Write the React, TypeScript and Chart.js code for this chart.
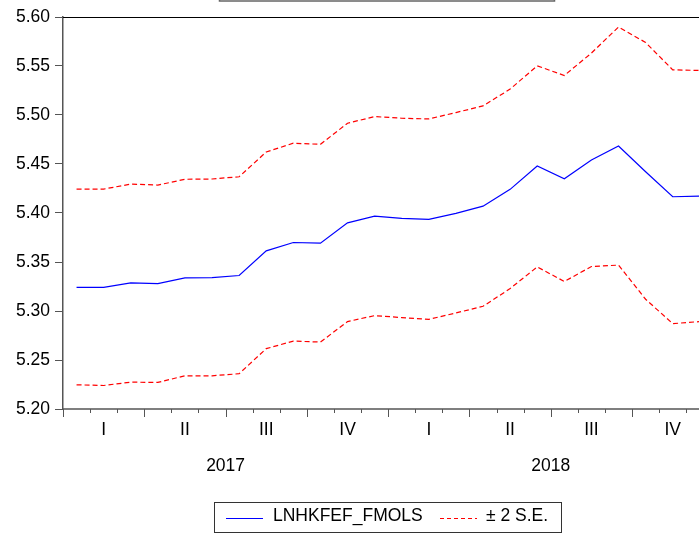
import { useEffect, useRef } from "react";
import { Chart, registerables } from "chart.js";

Chart.register(...registerables);

const months = [
  "2017M01", "2017M02", "2017M03", "2017M04", "2017M05", "2017M06",
  "2017M07", "2017M08", "2017M09", "2017M10", "2017M11", "2017M12",
  "2018M01", "2018M02", "2018M03", "2018M04", "2018M05", "2018M06",
  "2018M07", "2018M08", "2018M09", "2018M10", "2018M11", "2018M12",
];

const forecast = [
  5.3242, 5.3242, 5.3287, 5.328, 5.3338, 5.3341, 5.3362, 5.3614, 5.3699, 5.3692, 5.39, 5.3968,
  5.3945, 5.3935, 5.3996, 5.407, 5.4241, 5.448, 5.435, 5.4541, 5.4684, 5.4421, 5.4166, 5.4173,
];

const upperSE = [
  5.4244, 5.4244, 5.4295, 5.4285, 5.4344, 5.4347, 5.437, 5.4623, 5.4712, 5.4701, 5.4916, 5.4984,
  5.4967, 5.496, 5.5025, 5.5093, 5.5264, 5.5502, 5.5403, 5.5632, 5.5898, 5.574, 5.5461, 5.5454,
];

const lowerSE = [
  5.2247, 5.224, 5.2274, 5.2271, 5.2339, 5.2339, 5.236, 5.2616, 5.2693, 5.2683, 5.2892, 5.2953,
  5.2933, 5.2915, 5.298, 5.3048, 5.3229, 5.345, 5.3301, 5.3454, 5.3468, 5.312, 5.2871, 5.2892,
];

const quarterLabels = ["I", "II", "III", "IV"];
const yearLabels = ["2017", "2018"];
const seriesNames = ["LNHKFEF_FMOLS", "\u00b1 2 S.E."];

const Y_MIN = 5.2;
const Y_MAX = 5.6;
const Y_STEP = 0.05;
const X_VISIBLE_MAX = 23.47;

const FONT = '"Liberation Sans", Arial, sans-serif';
const FONT_SIZE = 17.5;
const AXIS_GRAY = "#555";

const toPoints = (arr: number[]) => arr.map((v, i) => ({ x: i + 0.5, y: v }));

const decorPlugin = {
  id: "decor",
  afterDraw(chart: any) {
    const { ctx, chartArea, scales } = chart;
    const x = scales.x;
    const { left, top, bottom } = chartArea;
    ctx.save();

    // top frame line
    ctx.strokeStyle = "#000";
    ctx.lineWidth = 1;
    ctx.beginPath();
    ctx.moveTo(left, top + 0.5);
    ctx.lineTo(chart.width, top + 0.5);
    ctx.stroke();

    // bottom axis line
    ctx.strokeStyle = AXIS_GRAY;
    ctx.lineWidth = 1.5;
    ctx.beginPath();
    ctx.moveTo(left, bottom);
    ctx.lineTo(chart.width, bottom);
    ctx.stroke();

    // month ticks
    ctx.lineWidth = 1;
    for (let k = 0; k <= months.length; k++) {
      const px = Math.round(x.getPixelForValue(k)) + 0.5;
      if (px > chart.width + 1) continue;
      const len = k % 3 === 0 ? 8 : 4;
      ctx.beginPath();
      ctx.moveTo(px, bottom);
      ctx.lineTo(px, bottom + len);
      ctx.stroke();
    }

    // quarter labels
    ctx.fillStyle = "#000";
    ctx.font = `${FONT_SIZE}px ${FONT}`;
    ctx.textAlign = "center";
    ctx.textBaseline = "alphabetic";
    const nQuarters = months.length / 3;
    for (let q = 0; q < nQuarters; q++) {
      const px = x.getPixelForValue(q * 3 + 1.5);
      ctx.fillText(quarterLabels[q % 4], px, bottom + 26);
    }
    // year labels
    yearLabels.forEach((yl, i) => {
      const px = x.getPixelForValue(i * 12 + 6);
      ctx.fillText(yl, px, bottom + 62);
    });

    // title box (cut off at top)
    ctx.strokeStyle = "#666";
    ctx.lineWidth = 1.5;
    ctx.strokeRect(219.5, -20, 335, 21);

    // legend
    const lx = 214.5, ly = 502.5, lw = 347, lh = 30;
    ctx.strokeStyle = "#333";
    ctx.lineWidth = 1;
    ctx.strokeRect(lx, ly, lw, lh);
    const cy = 518.5;
    ctx.strokeStyle = "#0000ff";
    ctx.beginPath();
    ctx.moveTo(226, cy);
    ctx.lineTo(263, cy);
    ctx.stroke();
    ctx.textAlign = "left";
    ctx.fillText(seriesNames[0], 273, 521);
    ctx.strokeStyle = "#ff0000";
    ctx.setLineDash([4, 3]);
    ctx.beginPath();
    ctx.moveTo(440, cy);
    ctx.lineTo(477, cy);
    ctx.stroke();
    ctx.setLineDash([]);
    ctx.fillText(seriesNames[1], 486, 521);

    ctx.restore();
  },
};

export default function App() {
  const canvasRef = useRef<HTMLCanvasElement | null>(null);

  useEffect(() => {
    const canvas = canvasRef.current;
    if (!canvas) return;
    const chart = new Chart(canvas, {
      type: "line",
      data: {
        datasets: [
          {
            label: seriesNames[0],
            data: toPoints(forecast),
            borderColor: "#0000ff",
            borderWidth: 1.2,
            pointRadius: 0,
            tension: 0,
            clip: false,
          },
          {
            label: seriesNames[1],
            data: toPoints(upperSE),
            borderColor: "#ff0000",
            borderWidth: 1.2,
            borderDash: [5, 3],
            pointRadius: 0,
            tension: 0,
            clip: false,
          },
          {
            label: seriesNames[1] + " lower",
            data: toPoints(lowerSE),
            borderColor: "#ff0000",
            borderWidth: 1.2,
            borderDash: [5, 3],
            pointRadius: 0,
            tension: 0,
            clip: false,
          },
        ],
      },
      options: {
        animation: false,
        responsive: false,
        devicePixelRatio: 1,
        layout: { padding: { top: 17, bottom: 130, left: 0, right: 0 } },
        plugins: {
          legend: { display: false },
          tooltip: { enabled: false },
          title: { display: false },
        },
        scales: {
          x: {
            type: "linear",
            display: false,
            min: 0,
            max: X_VISIBLE_MAX,
          },
          y: {
            type: "linear",
            min: Y_MIN,
            max: Y_MAX,
            afterFit: (scale: any) => {
              scale.width = 63;
            },
            border: { display: true, color: AXIS_GRAY, width: 1.5 },
            grid: {
              drawOnChartArea: false,
              drawTicks: true,
              tickLength: 8,
              color: AXIS_GRAY,
            },
            ticks: {
              stepSize: Y_STEP,
              padding: 5,
              color: "#000",
              font: { family: FONT, size: FONT_SIZE },
              callback: (v: any) => Number(v).toFixed(2),
            },
          },
        },
      },
      plugins: [decorPlugin],
    });
    return () => chart.destroy();
  }, []);

  return (
    <div style={{ position: "fixed", left: 0, top: 0, width: 699, height: 539, background: "#fff" }}>
      <canvas ref={canvasRef} width={699} height={539} style={{ width: 699, height: 539 }} />
    </div>
  );
}
